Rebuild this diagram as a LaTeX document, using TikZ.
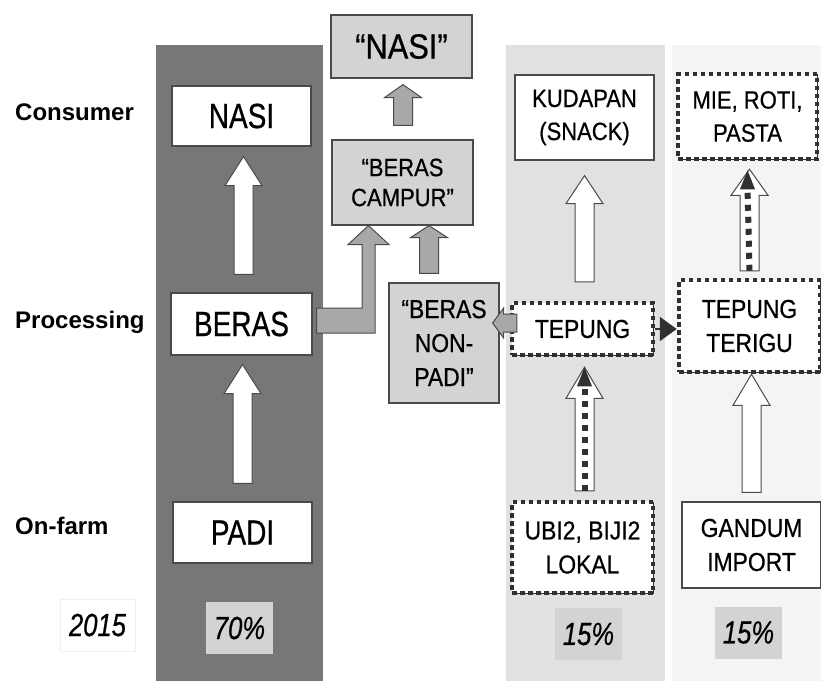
\documentclass[tikz,border=0pt]{standalone}
\usepackage{fontspec}
\setmainfont{Liberation Sans}
\newfontfamily\narrowfont[FakeStretch=0.8, FakeBold=0.6]{Liberation Sans}
\newfontfamily\condfont[FakeStretch=0.88, FakeBold=0.6]{Liberation Sans}
\usetikzlibrary{calc,arrows.meta}

\definecolor{colDark}{HTML}{777777}
\definecolor{colLight}{HTML}{E1E1E1}
\definecolor{colPale}{HTML}{F4F4F4}
\definecolor{colBox}{HTML}{D3D3D3}
\definecolor{colArrow}{HTML}{A8A8A8}
\definecolor{colLine}{HTML}{4A4A4A}
\definecolor{colDot}{HTML}{303030}

\tikzset{
  box/.style={draw=colLine, line width=1.2pt, fill=white, inner sep=0pt, align=center},
  greybox/.style={box, fill=colBox},
  dotbox/.style={box, draw=colDot, line width=4.5pt, dash pattern=on 4.5pt off 3.5pt,
    preaction={draw=colDot, line width=1pt, solid}},
  pctbox/.style={fill=colBox, inner sep=0pt, minimum width=67pt, minimum height=52pt,
    font=\narrowfont\itshape\fontsize{32}{36}\selectfont},
  bigtxt/.style={font=\narrowfont\fontsize{35}{40}\selectfont},
  midtxt/.style={font=\condfont\fontsize{26}{34}\selectfont},
  rowlabel/.style={anchor=base west, inner sep=0pt, font=\bfseries\fontsize{24}{28}\selectfont},
  blockwhite/.style={draw=colLine, fill=white, line width=1pt},
  blockgrey/.style={draw=colLine, fill=colArrow, line width=1pt},
  dotline/.style={draw=colDot, line width=6pt, dash pattern=on 6pt off 6pt}
}

\newcommand{\shafthalf}{9.5pt}
\newcommand{\headhalf}{18.5pt}
% block arrow pointing up: start point, tip point, head length
\newcommand{\upblock}[4][blockwhite]{%
  \path[#1] let \p1=#2, \p2=#3 in
    (\x1-\shafthalf,\y1) -- (\x1+\shafthalf,\y1) -- (\x1+\shafthalf,\y2-#4)
    -- (\x1+\headhalf,\y2-#4) -- (\x1,\y2) -- (\x1-\headhalf,\y2-#4)
    -- (\x1-\shafthalf,\y2-#4) -- cycle;}

\begin{document}
\begin{tikzpicture}[x=1pt, y=-1pt]
  \useasboundingbox[fill=white] (0,0) rectangle (821,681);

  % Columns
  \foreach \xa/\xb/\col in {156/323/colDark, 506/665/colLight, 672/821/colPale} {
    \fill[\col] (\xa,45) rectangle (\xb,681);
  }

  % Row labels
  \node[rowlabel] (consumer) at (15,120) {Consumer};
  \node[rowlabel] (processing) at (15,328) {Processing};
  \node[rowlabel] (onfarm) at (15,534) {On-farm};

  % Rice column
  \node[box, bigtxt, minimum width=139pt, minimum height=60pt] (nasi) at (241.5,116) {NASI};
  \node[box, bigtxt, minimum width=141pt, minimum height=62pt] (beras) at (241.5,324) {BERAS};
  \node[box, bigtxt, minimum width=139pt, minimum height=61pt] (padi) at (242.5,532.5) {PADI};

  % Mixed rice
  \node[greybox, font=\condfont\fontsize{35}{40}\selectfont, minimum width=141pt, minimum height=63pt] (nasiq) at (401.5,46.5) {“NASI”};
  \node[greybox, font=\condfont\fontsize{25}{30}\selectfont, minimum width=141pt, minimum height=85pt] (campur) at (402.5,182.5) {“BERAS\\CAMPUR”};
  \node[greybox, midtxt, minimum width=110pt, minimum height=120pt] (nonpadi) at (444,343) {“BERAS\\NON-\\PADI”};

  % Local tubers and seeds
  \node[box, font=\condfont\fontsize{25}{33}\selectfont, minimum width=139pt, minimum height=85pt] (kudapan) at (584.5,117.5) {KUDAPAN\\(SNACK)};
  \node[dotbox, midtxt, minimum width=141pt, minimum height=52pt] (tepung) at (582.5,329) {TEPUNG};
  \node[dotbox, midtxt, minimum width=141pt, minimum height=91pt] (ubi) at (582.5,547.5) {UBI2, BIJI2\\LOKAL};

  % Wheat
  \node[dotbox, font=\condfont\fontsize{25}{33}\selectfont, minimum width=139pt, minimum height=85pt] (mie) at (747.5,116.5) {MIE, ROTI,\\PASTA};
  \node[dotbox, midtxt, minimum width=141pt, minimum height=92pt] (terigu) at (749.5,326) {TEPUNG\\TERIGU};
  \node[box, midtxt, minimum width=139pt, minimum height=86pt] (gandum) at (751.5,545) {GANDUM\\IMPORT};

  % Year and shares
  \node[fill=white, draw=black!6, inner sep=0pt, minimum width=75pt, minimum height=52pt,
    font=\narrowfont\itshape\fontsize{32}{36}\selectfont] (yr) at (97.5,625) {2015};
  \node[pctbox] (pctRice) at (239.5,628) {70\%};
  \node[pctbox] (pctLocal) at (588.5,634) {15\%};
  \node[pctbox] (pctWheat) at (748.5,632.5) {15\%};

  % White block arrows
  \foreach \src/\dst/\dx/\ga/\gb/\hl in {beras/nasi/2/18/10/29, padi/beras/0/18/9/29,
      tepung/kudapan/2/19/15/28, ubi/tepung/2/9/10/31,
      terigu/mie/0/7/8/26, gandum/terigu/0/9/0/31} {
    \upblock{($(\src.north)+(\dx,-\ga)$)}{($(\dst.south)+(0,\gb)$)}{\hl pt}
  }

  % Dotted flows inside the arrows
  \draw[dotline] ($(ubi.north)+(2,-9)$) -- ($(tepung.south)+(2,28)$);
  \fill[colDot] ($(tepung.south)+(2,10)$) -- ++(7.5,19) -- ++(-15,0) -- cycle;
  \draw[dotline] ($(terigu.north)+(0,-7)$) -- ($(mie.south)+(0,26)$);
  \fill[colDot] ($(mie.south)+(0,9)$) -- ++(7.5,19) -- ++(-15,0) -- cycle;

  % Grey arrows to mixed rice
  \upblock[blockgrey]{($(campur.north)+(0.5,-14)$)}{($(nasiq.south)+(0,6)$)}{13pt}
  \upblock[blockgrey]{($(nonpadi.north)+(-15,-9)$)}{(campur.south)}{12pt}
  \path[blockgrey] let \p1=(beras.east), \p2=(campur.south) in
    (\x1+4pt,\y1+16pt) -- (\x2-40.5pt,\y1+16pt) -- (\x2-40.5pt,\y2-19pt)
    -- (\x2-54.5pt,\y2-19pt) -- (\x2-34pt,\y2) -- (\x2-13.5pt,\y2-19pt)
    -- (\x2-27.5pt,\y2-19pt) -- (\x2-27.5pt,\y1-9pt) -- (\x1+4pt,\y1-9pt) -- cycle;
  \path[blockgrey] let \p1=(tepung.west), \p2=(nonpadi.east) in
    (\x1+7pt,\y1+15pt) -- (\x2+4pt,\y1+15pt) -- (\x2+4pt,\y1+21pt) -- (\x2-7pt,\y1+6pt)
    -- (\x2+4pt,\y1-9pt) -- (\x2+4pt,\y1-3pt) -- (\x1+7pt,\y1-3pt) -- cycle;

  % Flour to wheat flour
  \draw[colDot, line width=2pt, -{Triangle[length=17pt, width=24pt]}] (tepung.east) -- (tepung.east -| terigu.west);
\end{tikzpicture}
\end{document}
